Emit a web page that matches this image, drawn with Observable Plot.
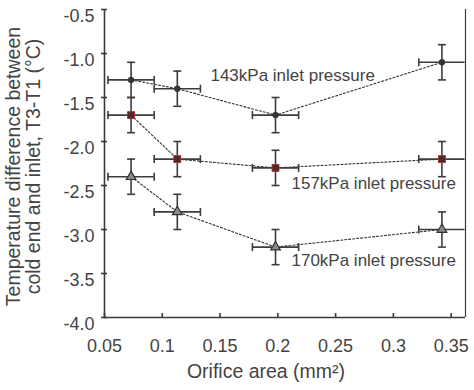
<!DOCTYPE html>
<html>
<head>
<meta charset="utf-8">
<script src="https://cdn.jsdelivr.net/npm/d3@7"></script>
<script src="https://cdn.jsdelivr.net/npm/@observablehq/plot@0.6"></script>
<style>
  html, body { margin: 0; padding: 0; background: #fff; }
  #chart { width: 474px; height: 390px; }
</style>
</head>
<body>
<div id="chart"></div>
<script>
// ---- data ----
const orificeArea = [0.073, 0.113, 0.198, 0.342];
const dT143 = [-1.3, -1.4, -1.7, -1.1];
const dT157 = [-1.7, -2.2, -2.3, -2.2];
const dT170 = [-2.4, -2.8, -3.2, -3.0];
const xErr = [0.02, 0.02, 0.02, 0.02];
const yErr = [0.2, 0.2, 0.2, 0.2];
const seriesNames = ["143kPa inlet pressure", "157kPa inlet pressure", "170kPa inlet pressure"];
const labelX = [0.1417, 0.2118, 0.2118];
const labelY = [-1.25, -2.483, -3.358];
const xTicks = [0.05, 0.1, 0.15, 0.2, 0.25, 0.3, 0.35];
const xTickLabels = ["0.05", "0.1", "0.15", "0.2", "0.25", "0.3", "0.35"];
const yTicks = [-4.0, -3.5, -3.0, -2.5, -2.0, -1.5, -1.0, -0.5];
const yTickLabels = ["-4.0", "-3.5", "-3.0", "-2.5", "-2.0", "-1.5", "-1.0", "-0.5"];
const xDomain = [0.05, 0.3624];
const yDomain = [-4.0, -0.5];

// ---- build tables ----
const mk = (vals, name) => orificeArea.map((x, i) => ({
  series: name, x, y: vals[i],
  xlo: x - xErr[i], xhi: x + xErr[i],
  ylo: vals[i] - yErr[i], yhi: vals[i] + yErr[i]
}));
const s143 = mk(dT143, seriesNames[0]);
const s157 = mk(dT157, seriesNames[1]);
const s170 = mk(dT170, seriesNames[2]);
const all = [...s143, ...s157, ...s170];
const labels = seriesNames.map((t, i) => ({text: t, x: labelX[i], y: labelY[i]}));

const axisColor = "#3a3a3a";
const textColor = "#444444";

const hCap = {draw(ctx, size) { const r = Math.sqrt(size / Math.PI); ctx.moveTo(-r, 0); ctx.lineTo(r, 0); }};
const vCap = {draw(ctx, size) { const r = Math.sqrt(size / Math.PI); ctx.moveTo(0, -r); ctx.lineTo(0, r); }};

const errStyle = {stroke: "#3c3c3c", strokeWidth: 1.6};

const chart = Plot.plot({
  width: 474,
  height: 390,
  marginLeft: 104,
  marginRight: 9,
  marginTop: 9,
  marginBottom: 73,
  style: {fontFamily: "'Liberation Sans', Arial, sans-serif", color: axisColor, background: "#fff"},
  x: {domain: xDomain, label: null},
  y: {domain: yDomain, label: null},
  marks: [
    // frame lines
    Plot.ruleX([xDomain[0]], {stroke: axisColor, strokeWidth: 1.6}),
    Plot.ruleX([xDomain[1]], {stroke: axisColor, strokeWidth: 1.2}),
    Plot.ruleY([yDomain[0]], {stroke: axisColor, strokeWidth: 1.6}),
    // x ticks (upward, inside) and labels
    Plot.axisX({ticks: xTicks, tickSize: 4, dy: -4, strokeWidth: 1.6, tickFormat: () => ""}),
    Plot.axisX({ticks: xTicks, tickSize: 0, tickPadding: 22, fontSize: 18, fill: textColor,
      tickFormat: d => xTickLabels[xTicks.indexOf(d)]}),
    // y ticks (crossing) and labels
    Plot.axisY({ticks: yTicks, tickSize: 6, dx: 3, strokeWidth: 1.6, tickFormat: () => ""}),
    Plot.axisY({ticks: yTicks, tickSize: 0, tickPadding: 10, dy: 7, fontSize: 18, fill: textColor,
      tickFormat: d => yTickLabels[yTicks.indexOf(d)]}),
    // connecting dotted lines
    Plot.line(s143, {x: "x", y: "y", stroke: "#333", strokeWidth: 1.1, strokeDasharray: "2,2"}),
    Plot.line(s157, {x: "x", y: "y", stroke: "#333", strokeWidth: 1.1, strokeDasharray: "2,2"}),
    Plot.line(s170, {x: "x", y: "y", stroke: "#333", strokeWidth: 1.1, strokeDasharray: "2,2"}),
    // error bars
    Plot.ruleX(all, {x: "x", y1: "ylo", y2: "yhi", ...errStyle}),
    Plot.ruleY(all, {y: "y", x1: "xlo", x2: d => Math.min(d.xhi, xDomain[1]), ...errStyle}),
    Plot.dot(all, {x: "x", y: "ylo", symbol: hCap, r: 4, fill: "none", ...errStyle}),
    Plot.dot(all, {x: "x", y: "yhi", symbol: hCap, r: 4, fill: "none", ...errStyle}),
    Plot.dot(all, {x: "xlo", y: "y", symbol: vCap, r: 4, fill: "none", ...errStyle}),
    Plot.dot(all.filter(d => d.xhi < xDomain[1] - 0.001), {x: "xhi", y: "y", symbol: vCap, r: 4, fill: "none", ...errStyle}),
    // markers
    Plot.dot(s143, {x: "x", y: "y", symbol: "circle", r: 3, fill: "#333", stroke: "#333", strokeWidth: 0.5}),
    Plot.dot(s157, {x: "x", y: "y", symbol: "square", r: 3.9, fill: "#4a2a2a", stroke: "#a83232", strokeWidth: 1}),
    Plot.dot(s170, {x: "x", y: "y", symbol: "triangle", r: 3.6, fill: "#8a8a8a", stroke: "#333", strokeWidth: 1.2}),
    // series annotations
    Plot.text(labels, {x: "x", y: "y", text: "text", textAnchor: "start", fontSize: 17, fill: textColor}),
    // axis titles
    Plot.text(["Temperature difference between\ncold end and inlet, T3-T1 (°C)"], {
      frameAnchor: "left", textAnchor: "middle", lineAnchor: "middle", rotate: -90, dx: -81, dy: 3,
      fontSize: 19.5, fill: textColor, lineHeight: 1.0
    }),
    Plot.text(["Orifice area (mm²)"], {
      frameAnchor: "bottom", textAnchor: "middle", dx: -19, dy: 60, fontSize: 19.5, fill: textColor
    })
  ]
});
document.getElementById("chart").appendChild(chart);
</script>
</body>
</html>
